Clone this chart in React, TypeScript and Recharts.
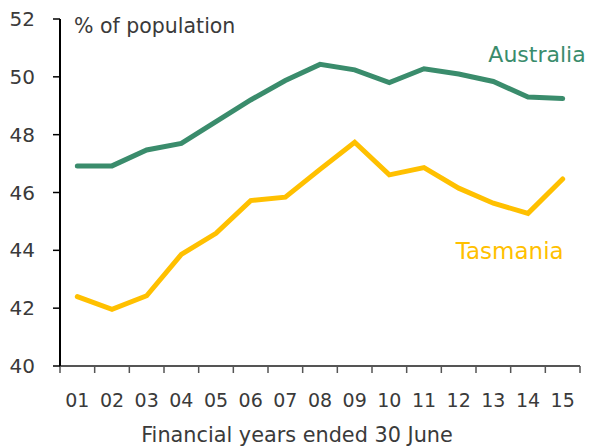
import React from 'react';
import { LineChart, Line, XAxis, YAxis } from 'recharts';

const years = ['01', '02', '03', '04', '05', '06', '07', '08', '09', '10', '11', '12', '13', '14', '15'];
const australia = [46.92, 46.92, 47.47, 47.7, 48.45, 49.2, 49.87, 50.43, 50.24, 49.8, 50.28, 50.1, 49.84, 49.3, 49.25];
const tasmania = [42.4, 41.96, 42.43, 43.86, 44.59, 45.72, 45.84, 46.8, 47.74, 46.61, 46.86, 46.15, 45.63, 45.28, 46.47];
const yTicks = [40, 42, 44, 46, 48, 50, 52];

const FONT = '"DejaVu Sans", sans-serif';
const TEXT = '#3a3a3a';
const GREEN = '#3a8c6c';
const YELLOW = '#ffc000';

const data = years.map((y, i) => ({
  pos: i + 1,
  label: y,
  australia: australia[i],
  tasmania: tasmania[i],
}));

const labelTicks = data.map(d => d.pos);
const boundaryTicks = [0.5, ...data.map(d => d.pos + 0.5)];

const seriesLabel = (text: string, color: string, size: number, idx: number, dx: number, dy: number) =>
  (props: any) => {
    if (props.index !== idx) return null;
    return (
      <text
        x={props.x + dx}
        y={props.y + dy}
        textAnchor="end"
        fill={color}
        fontFamily={FONT}
        fontSize={size}
      >
        {text}
      </text>
    );
  };

export default function App() {
  return (
    <div style={{ position: 'absolute', left: 0, top: 0, background: '#fff' }}>
      <LineChart
        width={590}
        height={448}
        data={data}
        margin={{ top: 19, right: 10, left: 0, bottom: 0 }}
      >
        <XAxis
          xAxisId="a"
          dataKey="pos"
          type="number"
          domain={[0.5, years.length + 0.5]}
          ticks={boundaryTicks}
          height={8}
          tickSize={7}
          tick={() => <g />}
          tickLine={{ stroke: '#555', strokeWidth: 1.5 }}
          axisLine={{ stroke: '#555', strokeWidth: 2 }}
          interval={0}
        />
        <XAxis
          xAxisId="b"
          dataKey="pos"
          type="number"
          domain={[0.5, years.length + 0.5]}
          ticks={labelTicks}
          height={74}
          tickSize={0}
          tickMargin={20}
          tickLine={false}
          axisLine={false}
          interval={0}
          tickFormatter={(v: number) => years[v - 1]}
          tick={{ fill: TEXT, fontSize: 19, fontFamily: FONT }}
          label={{
            content: (p: any) => (
              <text
                x={p.viewBox.x + p.viewBox.width / 2 - 23}
                y={442}
                textAnchor="middle"
                fill={TEXT}
                fontFamily={FONT}
                fontSize={20.8}
              >
                Financial years ended 30 June
              </text>
            ),
          }}
        />
        <YAxis
          domain={[40, 52]}
          ticks={yTicks}
          width={60}
          tickSize={7}
          tickMargin={18}
          interval={0}
          tick={{ fill: TEXT, fontSize: 20, fontFamily: FONT }}
          tickLine={{ stroke: '#000', strokeWidth: 1.5 }}
          axisLine={{ stroke: '#000', strokeWidth: 2 }}
          label={{
            content: (p: any) => (
              <text
                x={p.viewBox.x + p.viewBox.width + 14}
                y={33}
                fill={TEXT}
                fontFamily={FONT}
                fontSize={20.5}
              >
                % of population
              </text>
            ),
          }}
        />
        <Line
          xAxisId="a"
          type="linear"
          dataKey="australia"
          stroke={GREEN}
          strokeWidth={5}
          dot={false}
          strokeLinecap="round"
          isAnimationActive={false}
          label={seriesLabel('Australia', GREEN, 22, 14, 23, -37)}
        />
        <Line
          xAxisId="a"
          type="linear"
          dataKey="tasmania"
          stroke={YELLOW}
          strokeWidth={5}
          dot={false}
          strokeLinecap="round"
          isAnimationActive={false}
          label={seriesLabel('Tasmania', YELLOW, 23, 14, 1, 80)}
        />
      </LineChart>
    </div>
  );
}
